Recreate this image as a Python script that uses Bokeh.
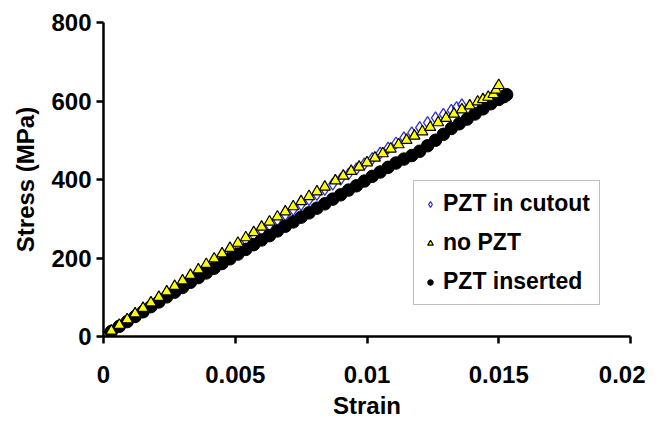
from bokeh.plotting import figure
from bokeh.models import Legend, LegendItem, FixedTicker, CustomJSTickFormatter, Range1d
from bokeh.embed import file_html
from bokeh.resources import INLINE

# PZT in cutout (blue hollow diamonds)
cut_strain = [0, 0.0003, 0.0006, 0.0009, 0.0012, 0.0015, 0.0018, 0.0021, 0.0024, 0.0027,
              0.0030, 0.0033, 0.0036, 0.0039, 0.0042, 0.0045, 0.0048, 0.0051, 0.0054, 0.0057,
              0.0060, 0.0063, 0.0066, 0.0069, 0.0072, 0.0075, 0.0078, 0.0081, 0.0084, 0.0087,
              0.0090, 0.0093, 0.0096, 0.0099, 0.0102, 0.0105, 0.0108, 0.0111, 0.0114, 0.0117,
              0.0120, 0.0123, 0.0126, 0.0129, 0.0132, 0.0134, 0.0136]
cut_stress = [0, 14, 28, 42, 56, 70, 84, 98, 112, 125,
              139, 152, 166, 179, 193, 206, 219, 232, 245, 258,
              271, 284, 297, 310, 323, 336, 349, 362, 375, 388,
              401, 414, 427, 440, 453, 467, 480, 493, 506, 519,
              532, 545, 557, 566, 576, 583, 590]

# no PZT (yellow triangles)
nop_strain = [0, 0.0003, 0.0006, 0.0009, 0.0012, 0.0015, 0.0018, 0.0021, 0.0024, 0.0027,
              0.0030, 0.0033, 0.0036, 0.0039, 0.0042, 0.0045, 0.0048, 0.0051, 0.0054, 0.0057,
              0.0060, 0.0063, 0.0066, 0.0069, 0.0072, 0.0075, 0.0078, 0.0081, 0.0084, 0.0088,
              0.0091, 0.0094, 0.0097, 0.0100, 0.0103, 0.0106, 0.0109, 0.0112, 0.0115, 0.0118,
              0.0121, 0.0124, 0.0127, 0.0130, 0.0133, 0.0136, 0.0139, 0.0142, 0.0144, 0.0146,
              0.0148, 0.0149, 0.0150]
nop_stress = [0, 14, 29, 43, 58, 72, 86, 100, 114, 128,
              142, 156, 170, 184, 198, 211, 225, 238, 252, 265,
              279, 292, 305, 318, 331, 344, 357, 369, 381, 397,
              409, 421, 432, 443, 455, 466, 478, 489, 500, 511,
              522, 533, 545, 556, 567, 578, 588, 598, 604, 610,
              617, 628, 640]

# PZT inserted (black circles)
ins_strain = [0, 0.0003, 0.0006, 0.0009, 0.0012, 0.0015, 0.0018, 0.0021, 0.0024, 0.0027,
              0.0030, 0.0033, 0.0036, 0.0039, 0.0042, 0.0045, 0.0048, 0.0051, 0.0054, 0.0057,
              0.0060, 0.0063, 0.0066, 0.0069, 0.0072, 0.0075, 0.0078, 0.0081, 0.0084, 0.0087,
              0.0090, 0.0093, 0.0096, 0.0099, 0.0102, 0.0105, 0.0108, 0.0111, 0.0114, 0.0117,
              0.0120, 0.0123, 0.0126, 0.0129, 0.0132, 0.0135, 0.0138, 0.0141, 0.0144, 0.0147,
              0.0150, 0.0152, 0.0153]
ins_stress = [0, 13, 26, 38, 51, 63, 76, 88, 101, 113,
              125, 138, 150, 162, 174, 186, 198, 210, 222, 234,
              246, 257, 269, 281, 292, 304, 315, 327, 338, 350,
              361, 373, 384, 396, 408, 419, 431, 442, 452, 461,
              472, 486, 500, 515, 530, 542, 554, 567, 580, 593,
              604, 611, 616]

x_ticks = [0, 0.005, 0.01, 0.015, 0.02]
y_ticks = [0, 200, 400, 600, 800]

FONT = "Liberation Sans"
FS = "24px"

p = figure(width=645, height=426, output_backend="svg", toolbar_location=None,
           x_range=Range1d(0, 0.02), y_range=Range1d(0, 800),
           min_border_left=103, min_border_right=15, min_border_top=22, min_border_bottom=90)
p.xgrid.grid_line_color = None
p.ygrid.grid_line_color = None
p.outline_line_color = None
p.background_fill_color = "white"

p.xaxis.ticker = FixedTicker(ticks=x_ticks)
p.yaxis.ticker = FixedTicker(ticks=y_ticks)
p.xaxis.formatter = CustomJSTickFormatter(code="return String(Math.round(tick*1000)/1000);")
p.xaxis.axis_label = "Strain"
p.yaxis.axis_label = "Stress (MPa)"

for ax in (p.xaxis, p.yaxis):
    ax.axis_line_width = 2.5
    ax.axis_line_color = "black"
    ax.major_tick_line_width = 2.5
    ax.major_tick_line_color = "black"
    ax.major_tick_in = 0
    ax.major_tick_out = 7
    ax.minor_tick_line_color = None
    ax.major_label_text_font = FONT
    ax.major_label_text_font_style = "bold"
    ax.major_label_text_font_size = FS
    ax.major_label_text_color = "black"
    ax.axis_label_text_font = FONT
    ax.axis_label_text_font_style = "bold"
    ax.axis_label_text_font_size = FS
    ax.axis_label_text_color = "black"

p.xaxis.major_label_standoff = 22
p.xaxis.axis_label_standoff = 6
p.yaxis.major_label_standoff = 5
p.yaxis.axis_label_standoff = 9

r_cut = p.scatter(cut_strain, cut_stress, marker="diamond", size=12, fill_color="white",
                  fill_alpha=0.0, line_color="#3333CC", line_width=1.3)
r_ins = p.scatter(ins_strain, ins_stress, marker="circle", size=12.5, fill_color="black",
                  line_color="black")
r_nop = p.scatter(nop_strain, nop_stress, marker="triangle", size=11, fill_color="#FFFF00",
                  line_color="black", line_width=1.2)

legend = Legend(items=[
    LegendItem(label="PZT in cutout", renderers=[r_cut]),
    LegendItem(label="no PZT", renderers=[r_nop]),
    LegendItem(label="PZT inserted", renderers=[r_ins]),
], location=(310, 31))
legend.label_text_font = FONT
legend.label_text_font_style = "bold"
legend.label_text_font_size = "23px"
legend.label_text_color = "black"
legend.border_line_color = "#808080"
legend.border_line_width = 1
legend.background_fill_color = "white"
legend.background_fill_alpha = 1.0
legend.padding = 9
legend.spacing = 12
legend.glyph_width = 14
legend.glyph_height = 20
legend.label_standoff = 6
legend.label_height = 27
legend.margin = 0
p.add_layout(legend)

open("out.html", "w").write(file_html(p, INLINE))
